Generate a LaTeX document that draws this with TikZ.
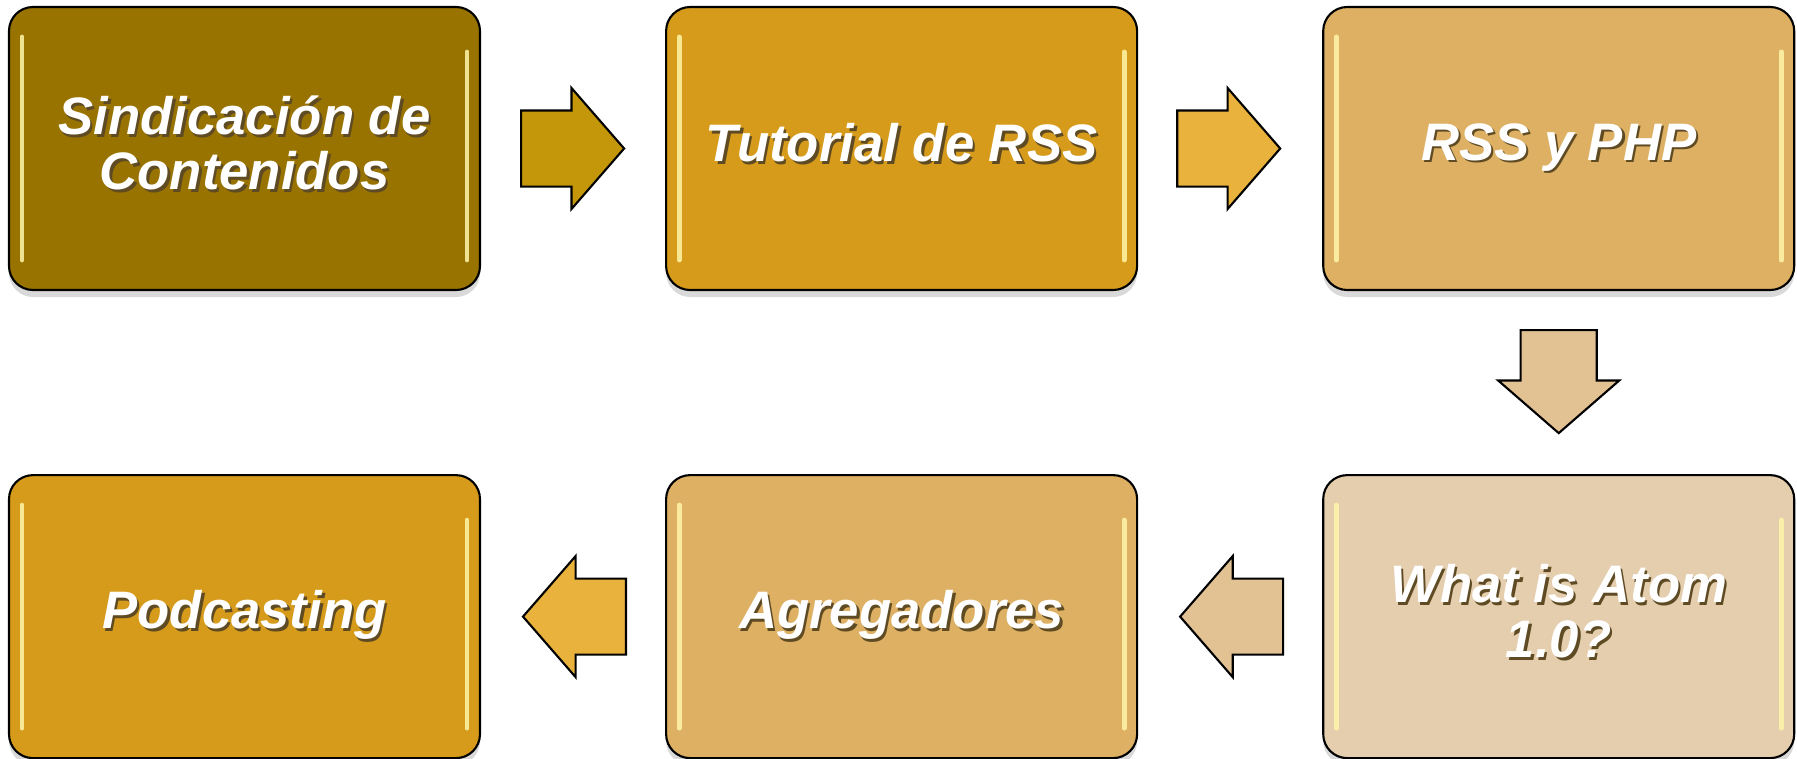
\documentclass[tikz,border=0pt]{standalone}
\usepackage{fontspec}
\setmainfont{Liberation Sans}
\usetikzlibrary{positioning,shapes.arrows,shadows}

\definecolor{boxA}{RGB}{153,115,0}
\definecolor{boxB}{RGB}{214,155,26}
\definecolor{boxC}{RGB}{222,176,100}
\definecolor{boxD}{RGB}{228,206,174}
\definecolor{arrA}{RGB}{196,150,10}
\definecolor{arrB}{RGB}{232,178,60}
\definecolor{arrC}{RGB}{226,194,146}
\definecolor{glint}{RGB}{255,246,170}
\definecolor{txtshadow}{RGB}{95,75,35}

\newcommand{\shtxt}[1]{\rule[-3.2pt]{0pt}{12.2pt}\makebox[0pt][l]{\hspace{0.25mm}\raisebox{-0.25mm}{\color{txtshadow}#1}}#1}

\tikzset{
	stage/.style={draw=black, line width=0.6pt, rounded corners=2.4mm,
		minimum width=4.71cm, minimum height=2.83cm, align=center,
		text=white, font=\fontsize{15}{15.6}\selectfont\bfseries\itshape,
		drop shadow={shadow xshift=0pt, shadow yshift=-0.7mm, opacity=0.3},
		path picture={
			\draw[glint, line width=1.4pt, line cap=round, opacity=0.85]
			([shift={(0.13,-0.3)}]path picture bounding box.north west) --
			([shift={(0.13,0.3)}]path picture bounding box.south west);
			\draw[glint, line width=1.4pt, line cap=round, opacity=0.85]
			([shift={(-0.13,-0.45)}]path picture bounding box.north east) --
			([shift={(-0.13,0.3)}]path picture bounding box.south east);
		}},
	flow/.style={single arrow, draw=black, line width=0.6pt, anchor=tail,
		inner xsep=0pt, inner ysep=0.37cm,
		minimum height=1.03cm, minimum width=1.19cm,
		single arrow head extend=0.225cm, single arrow tip angle=98}
}

\begin{document}
\begin{tikzpicture}
	\useasboundingbox (0,0) rectangle (17.97,7.58);
	
	\node[stage, fill=boxA] (sind) at (2.445,6.095) {\shtxt{Sindicación de}\\\shtxt{Contenidos}};
	\node[stage, fill=boxB, right=1.84cm of sind] (tut) {\shtxt{Tutorial de RSS}};
	\node[stage, fill=boxC, right=1.84cm of tut] (php) {\shtxt{RSS y PHP}};
	\node[stage, fill=boxD, below=1.83cm of php] (atom) {\shtxt{What is Atom}\\\shtxt{1.0?}};
	\node[stage, fill=boxC, left=1.84cm of atom] (agreg) {\shtxt{Agregadores}};
	\node[stage, fill=boxB, left=1.84cm of agreg] (pod) {\shtxt{Podcasting}};
	
	\node[flow, fill=arrA] (a1) at ([xshift=0.39cm]sind.east) {};
	\node[flow, fill=arrB] (a2) at ([xshift=0.38cm]tut.east) {};
	\node[flow, fill=arrC, rotate=270] (a3) at ([yshift=-0.38cm]php.south) {};
	\node[flow, fill=arrC, rotate=180] (a4) at ([xshift=-0.38cm]atom.west) {};
	\node[flow, fill=arrB, rotate=180] (a5) at ([xshift=-0.38cm]agreg.west) {};
	
\end{tikzpicture}
\end{document}
